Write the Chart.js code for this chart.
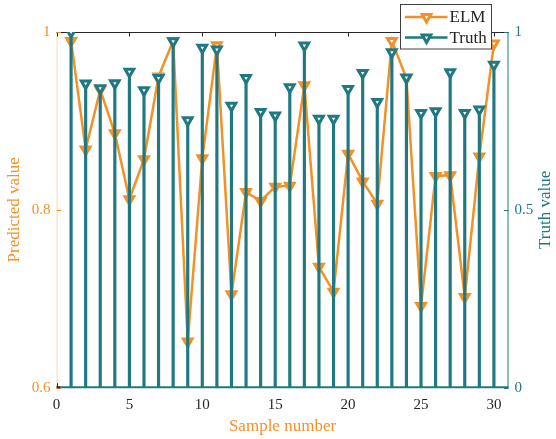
<!DOCTYPE html>
<html>
<head>
<meta charset="utf-8">
<script src="https://cdn.jsdelivr.net/npm/chart.js@4.4.1/dist/chart.umd.min.js"></script>
<style>
  html, body { margin: 0; padding: 0; background: #ffffff; }
  #wrap { width: 556px; height: 439px; }
</style>
</head>
<body>
<div id="wrap"><canvas id="chart" width="556" height="439"></canvas></div>
<script>
// data
const samples = [1, 2, 3, 4, 5, 6, 7, 8, 9, 10, 11, 12, 13, 14, 15,
                 16, 17, 18, 19, 20, 21, 22, 23, 24, 25, 26, 27, 28, 29, 30];
const elmValues = [0.990, 0.868, 0.935, 0.886, 0.812, 0.857, 0.950, 0.990, 0.652, 0.858,
                   0.985, 0.705, 0.820, 0.810, 0.826, 0.827, 0.940, 0.736, 0.708, 0.863,
                   0.832, 0.807, 0.990, 0.948, 0.692, 0.838, 0.839, 0.702, 0.860, 0.987];
const truthValues = [1.000, 0.855, 0.842, 0.856, 0.888, 0.836, 0.871, 0.974, 0.752, 0.956,
                     0.951, 0.793, 0.871, 0.775, 0.765, 0.845, 0.962, 0.756, 0.756, 0.840,
                     0.885, 0.803, 0.943, 0.872, 0.772, 0.777, 0.887, 0.772, 0.782, 0.908];
const xTicks = [0, 5, 10, 15, 20, 25, 30];
const leftTicks = [0.6, 0.8, 1];
const rightTicks = [0, 0.5, 1];
const seriesNames = ['ELM', 'Truth'];

const ORANGE = '#f29226';
const TEAL = '#1f7882';
const PEACH = '#f8d9b2';
const FONT = "'Liberation Serif', 'Times New Roman', serif";

const toPoints = vals => samples.map((s, i) => ({ x: s, y: vals[i] }));

// axis frame, inward tick marks and the stem baseline
const framePlugin = {
    id: 'frame',
    beforeDatasetsDraw(chart) {
        const { ctx, chartArea: a, scales } = chart;
        ctx.save();
        ctx.lineWidth = 1;
        ctx.lineCap = 'butt';

        ctx.strokeStyle = PEACH;
        ctx.beginPath(); ctx.moveTo(a.left + 0.5, a.top); ctx.lineTo(a.left + 0.5, a.bottom); ctx.stroke();

        ctx.strokeStyle = '#262626';
        ctx.beginPath(); ctx.moveTo(a.left, a.top + 0.5); ctx.lineTo(a.right, a.top + 0.5); ctx.stroke();
        xTicks.forEach(v => {
            const px = Math.round(scales.x.getPixelForValue(v)) + 0.5;
            ctx.beginPath(); ctx.moveTo(px, a.top); ctx.lineTo(px, a.top + 4.5); ctx.stroke();
            ctx.beginPath(); ctx.moveTo(px, a.bottom); ctx.lineTo(px, a.bottom - 4.5); ctx.stroke();
        });

        ctx.strokeStyle = ORANGE;
        leftTicks.forEach(v => {
            const py = Math.round(scales.y.getPixelForValue(v)) + 0.5;
            ctx.beginPath(); ctx.moveTo(a.left, py); ctx.lineTo(a.left + 4.5, py); ctx.stroke();
        });

        ctx.strokeStyle = TEAL;
        ctx.beginPath(); ctx.moveTo(a.right - 0.5, a.top); ctx.lineTo(a.right - 0.5, a.bottom); ctx.stroke();
        rightTicks.forEach(v => {
            const py = Math.round(scales.y2.getPixelForValue(v)) + 0.5;
            ctx.beginPath(); ctx.moveTo(a.right, py); ctx.lineTo(a.right - 4.5, py); ctx.stroke();
        });

        // stem baseline at truth = 0
        const by = scales.y2.getPixelForValue(0);
        ctx.lineWidth = 2;
        ctx.beginPath(); ctx.moveTo(a.left + 4, by - 0.5); ctx.lineTo(a.right, by - 0.5); ctx.stroke();
        ctx.strokeStyle = '#262626';
        ctx.beginPath(); ctx.moveTo(a.left, by - 0.5); ctx.lineTo(a.left + 4, by - 0.5); ctx.stroke();
        ctx.restore();
    }
};

// boxed legend in the upper right corner, plus the right axis title read bottom-to-top
const legendPlugin = {
    id: 'boxLegend',
    afterDraw(chart) {
        const ctx = chart.ctx;
        const a = chart.chartArea;
        const box = { x: 400.5, y: 4.5, w: 91, h: 44.5 };
        const colors = [ORANGE, TEAL];
        ctx.save();
        ctx.fillStyle = '#ffffff';
        ctx.fillRect(box.x, box.y, box.w, box.h);
        ctx.strokeStyle = '#404040';
        ctx.lineWidth = 1;
        ctx.strokeRect(box.x, box.y, box.w, box.h);
        seriesNames.forEach((name, i) => {
            const cy = box.y + 12.5 + i * 20.5;
            ctx.strokeStyle = colors[i];
            ctx.lineWidth = 2.5;
            ctx.beginPath(); ctx.moveTo(box.x + 4.5, cy); ctx.lineTo(box.x + 47, cy); ctx.stroke();
            ctx.fillStyle = '#ffffff';
            ctx.lineWidth = 3;
            Chart.helpers.drawPoint(ctx, { pointStyle: 'triangle', rotation: 180, radius: 5, borderWidth: 3 },
                box.x + 26, cy);
            ctx.fillStyle = '#262626';
            ctx.font = '17px ' + FONT;
            ctx.textBaseline = 'middle';
            ctx.textAlign = 'left';
            ctx.fillText(name, box.x + 49, cy + 1);
        });

        ctx.translate(546, (a.top + a.bottom) / 2);
        ctx.rotate(-Math.PI / 2);
        ctx.fillStyle = TEAL;
        ctx.font = '17px ' + FONT;
        ctx.textAlign = 'center';
        ctx.textBaseline = 'middle';
        ctx.fillText('Truth value', 0, 0);
        ctx.restore();
    }
};

const ctx = document.getElementById('chart');

new Chart(ctx, {
    type: 'line',
    data: {
        datasets: [
            {
                label: 'Truth',
                data: toPoints(truthValues),
                yAxisID: 'y2',
                showLine: false,
                pointStyle: 'triangle',
                rotation: 180,
                pointRadius: 5,
                pointBorderWidth: 3,
                pointBorderColor: TEAL,
                pointBackgroundColor: '#ffffff',
                borderColor: TEAL,
                order: 0
            },
            {
                type: 'bar',
                label: 'Truth stems',
                data: toPoints(truthValues),
                yAxisID: 'y2',
                backgroundColor: TEAL,
                barThickness: 2.5,
                order: 1
            },
            {
                label: 'ELM',
                data: toPoints(elmValues),
                yAxisID: 'y',
                borderColor: ORANGE,
                borderWidth: 2.5,
                tension: 0,
                pointStyle: 'triangle',
                rotation: 180,
                pointRadius: 5,
                pointBorderWidth: 3,
                pointBorderColor: ORANGE,
                pointBackgroundColor: '#ffffff',
                order: 2
            }
        ]
    },
    options: {
        responsive: false,
        animation: false,
        devicePixelRatio: 1,
        layout: { padding: { top: 32, left: 0, right: 0, bottom: 0 } },
        plugins: {
            legend: { display: false },
            tooltip: { enabled: false }
        },
        scales: {
            x: {
                type: 'linear',
                min: 0,
                max: 31,
                offset: false,
                grid: { display: false, drawTicks: false, tickLength: 0 },
                border: { display: false },
                afterBuildTicks: scale => { scale.ticks = xTicks.map(v => ({ value: v })); },
                afterFit: scale => { scale.height = 51.3; },
                ticks: {
                    color: '#262626',
                    padding: 8,
                    maxRotation: 0,
                    font: { family: FONT, size: 15 }
                },
                title: {
                    display: true,
                    text: 'Sample number',
                    color: ORANGE,
                    padding: { top: 0, bottom: 2 },
                    font: { family: FONT, size: 17 }
                }
            },
            y: {
                position: 'left',
                min: 0.6,
                max: 1,
                grid: { display: false, drawTicks: false, tickLength: 0 },
                border: { display: false },
                afterBuildTicks: scale => { scale.ticks = leftTicks.map(v => ({ value: v })); },
                afterFit: scale => { scale.width = 56.5; },
                ticks: {
                    color: ORANGE,
                    padding: 6,
                    font: { family: FONT, size: 15 },
                    callback: v => String(v)
                },
                title: {
                    display: true,
                    text: 'Predicted value',
                    color: ORANGE,
                    padding: { top: 4, bottom: 0 },
                    font: { family: FONT, size: 17 }
                }
            },
            y2: {
                position: 'right',
                min: 0,
                max: 1,
                grid: { display: false, drawTicks: false, tickLength: 0 },
                border: { display: false },
                afterBuildTicks: scale => { scale.ticks = rightTicks.map(v => ({ value: v })); },
                afterFit: scale => { scale.width = 47.5; },
                ticks: {
                    color: TEAL,
                    padding: 6,
                    font: { family: FONT, size: 15 },
                    callback: v => String(v)
                },
                title: { display: false }
            }
        }
    },
    plugins: [framePlugin, legendPlugin]
});
</script>
</body>
</html>
